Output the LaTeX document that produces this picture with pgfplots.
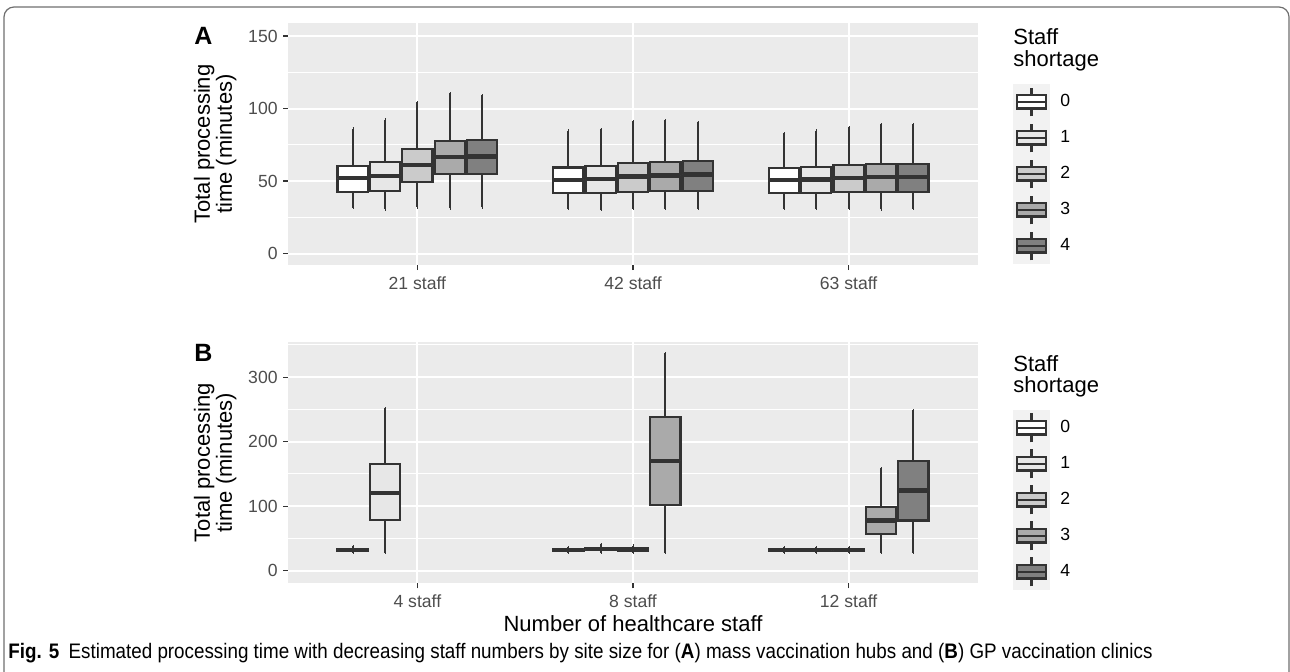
\documentclass[border=0pt]{standalone}
\usepackage{pgfplots}
\pgfplotsset{compat=1.18}
\usepgfplotslibrary{statistics}
\usepackage{fontspec}
\setmainfont{Liberation Sans}
\usepackage{graphicx}
\definecolor{bggrey}{HTML}{EBEBEB}
\definecolor{keybg}{HTML}{F2F2F2}
\definecolor{dk}{HTML}{333333}
\definecolor{tickgrey}{HTML}{4D4D4D}
\definecolor{framegrey}{HTML}{6E6E6E}
\definecolor{c0}{HTML}{FFFFFF}
\definecolor{c1}{HTML}{E7E7E7}
\definecolor{c2}{HTML}{CBCBCB}
\definecolor{c3}{HTML}{AAAAAA}
\definecolor{c4}{HTML}{808080}
% categories at x = 10, 20, 30; boxes offset by -3,-1.5,0,1.5,3
\newcommand{\bx}[7]{\addplot[forget plot, draw=dk, fill=#7, line width=1.1pt,
  boxplot/draw direction=y,
  boxplot prepared={draw position=#1, lower whisker=#2, lower quartile=#3,
  median=#4, upper quartile=#5, upper whisker=#6, box extend=1.4, whisker extend=0.01}]
  coordinates {};}
\newcommand{\legkey}[1]{%
  \fill[keybg] (0pt,-8.8pt) rectangle (17.6pt,8.8pt);
  \draw[dk, line width=1.1pt] (8.8pt,-7.2pt) -- (8.8pt,7.2pt);
  \draw[dk, line width=1.1pt, fill=#1] (1.5pt,-3.3pt) rectangle (16.1pt,3.3pt);
  \draw[dk, line width=1.2pt] (1.5pt,0pt) -- (16.1pt,0pt);}
\pgfplotsset{
  mystyle/.style={
    scale only axis, width=345pt,
    xmin=4, xmax=36, xtick={10,20,30},
    axis background/.style={fill=bggrey},
    axis line style={draw=none},
    grid=both,
    major grid style={white, line width=1pt},
    minor grid style={white, line width=0.5pt},
    tick align=outside, xtick pos=bottom, ytick pos=left,
    major tick length=2.5pt, minor tick length=0pt,
    tick style={dk, line width=0.6pt},
    tick label style={font=\fontsize{8.8}{10}\selectfont, text=tickgrey, inner sep=0pt},
    /pgf/number format/assume math mode=true,
    xticklabel style={yshift=-3pt},
    yticklabel style={xshift=-2.5pt},
    ylabel style={at={(axis description cs:-0.074,0.5)}, anchor=south, inner sep=0pt,
      align=center, font=\fontsize{11}{11}\selectfont},
    boxplot/every median/.style={line width=2.2pt},
    legend cell align=left,
    legend style={draw=none, fill=none, inner sep=0pt, row sep=0pt, column sep=5.5pt,
      nodes={inner sep=0pt}, font=\fontsize{8.8}{10}\selectfont, anchor=north west},
  }
}
\begin{document}
\begin{tikzpicture}
\useasboundingbox (0pt,0pt) rectangle (645pt,335.5pt);
\draw[framegrey, line width=0.6pt, rounded corners=5pt] (2pt,-1pt) -- (2pt,332pt) -- (644.5pt,332pt) -- (644.5pt,-1pt);
% Panel A
\begin{axis}[mystyle, at={(144pt,203pt)}, anchor=south west, height=121pt,
  ymin=-7.9, ymax=159, ytick={0,50,100,150}, minor ytick={25,75,125},
  xticklabels={21 staff,42 staff,63 staff},
  ylabel={Total processing\\time (minutes)},
  legend style={at={(axis description cs:1.0507,0.75)}}]
\addlegendimage{legend image code/.code={\legkey{c0}}}\addlegendentry{0}
\addlegendimage{legend image code/.code={\legkey{c1}}}\addlegendentry{1}
\addlegendimage{legend image code/.code={\legkey{c2}}}\addlegendentry{2}
\addlegendimage{legend image code/.code={\legkey{c3}}}\addlegendentry{3}
\addlegendimage{legend image code/.code={\legkey{c4}}}\addlegendentry{4}
% 21 staff
\bx{7.0}{31.4}{42.2}{51.9}{60.2}{86.2}{c0}
\bx{8.5}{30.4}{42.9}{53.5}{62.9}{92.4}{c1}
\bx{10.0}{31.8}{49.3}{60.9}{72.2}{104.2}{c2}
\bx{11.5}{31.1}{54.6}{66.4}{77.7}{110.4}{c3}
\bx{13.0}{31.8}{55.1}{66.8}{78.4}{109.3}{c4}
% 42 staff
\bx{17.0}{30.9}{41.7}{50.9}{59.3}{84.8}{c0}
\bx{18.5}{30.0}{41.7}{51.4}{60.2}{86.0}{c1}
\bx{20.0}{30.9}{42.6}{53.0}{62.5}{91.5}{c2}
\bx{21.5}{30.9}{43.3}{53.7}{63.4}{92.2}{c3}
\bx{23.0}{30.9}{43.3}{54.4}{64.1}{90.8}{c4}
% 63 staff
\bx{27.0}{30.9}{41.5}{50.7}{59.0}{83.0}{c0}
\bx{28.5}{30.9}{41.5}{51.2}{59.7}{84.8}{c1}
\bx{30.0}{30.9}{42.2}{52.1}{60.9}{87.1}{c2}
\bx{31.5}{30.4}{42.6}{52.6}{61.6}{89.4}{c3}
\bx{33.0}{30.9}{42.6}{52.6}{61.8}{89.0}{c4}
\end{axis}
% Panel B
\begin{axis}[mystyle, at={(144pt,43.85pt)}, anchor=south west, height=120.65pt,
  ymin=-19.5, ymax=354.5, ytick={0,100,200,300}, minor ytick={50,150,250,350},
  xticklabels={4 staff,8 staff,12 staff},
  ylabel={Total processing\\time (minutes)},
  legend style={at={(axis description cs:1.0507,0.7203)}}]
\addlegendimage{legend image code/.code={\legkey{c0}}}\addlegendentry{0}
\addlegendimage{legend image code/.code={\legkey{c1}}}\addlegendentry{1}
\addlegendimage{legend image code/.code={\legkey{c2}}}\addlegendentry{2}
\addlegendimage{legend image code/.code={\legkey{c3}}}\addlegendentry{3}
\addlegendimage{legend image code/.code={\legkey{c4}}}\addlegendentry{4}
% 4 staff
\bx{7.0}{27.0}{31.0}{32.5}{34.0}{38.0}{c0}
\bx{8.5}{27.9}{79.1}{120.9}{165.9}{252.8}{c1}
% 8 staff
\bx{17.0}{27.0}{31.0}{32.3}{34.0}{37.0}{c0}
\bx{18.5}{27.0}{32.0}{33.6}{35.5}{41.9}{c1}
\bx{20.0}{27.0}{31.5}{33.0}{35.0}{39.0}{c2}
\bx{21.5}{27.9}{101.3}{170.1}{238.3}{337.0}{c3}
% 12 staff
\bx{27.0}{27.0}{31.0}{32.0}{33.5}{37.2}{c0}
\bx{28.5}{27.0}{31.0}{32.0}{33.5}{37.2}{c1}
\bx{30.0}{27.0}{31.0}{32.0}{33.5}{37.2}{c2}
\bx{31.5}{27.9}{56.9}{78.0}{99.2}{159.7}{c3}
\bx{33.0}{27.9}{78.0}{124.5}{170.5}{248.6}{c4}
\end{axis}
% legend titles
\node[anchor=base west, inner sep=0pt, font=\fontsize{11}{11}\selectfont] at (506.5pt,313pt) {Staff};
\node[anchor=base west, inner sep=0pt, font=\fontsize{11}{11}\selectfont] at (506.5pt,302.15pt) {shortage};
\node[anchor=base west, inner sep=0pt, font=\fontsize{11}{11}\selectfont] at (506.5pt,150pt) {Staff};
\node[anchor=base west, inner sep=0pt, font=\fontsize{11}{11}\selectfont] at (506.5pt,139.15pt) {shortage};
% panel letters
\node[anchor=base west, inner sep=0pt, font=\fontsize{12.5}{13}\selectfont\bfseries] at (97pt,313.25pt) {A};
\node[anchor=base west, inner sep=0pt, font=\fontsize{12.5}{13}\selectfont\bfseries] at (97pt,154.6pt) {B};
% x axis title
\node[anchor=base, inner sep=0pt, font=\fontsize{11}{11}\selectfont] at (316.5pt,19.65pt) {Number of healthcare staff};
% caption
\node[anchor=base west, inner sep=0pt] at (4pt,6.5pt) {\resizebox{572pt}{\height}{\fontsize{10.5}{12}\selectfont\textbf{Fig. 5}\enspace Estimated processing time with decreasing staff numbers by site size for (\textbf{A}) mass vaccination hubs and (\textbf{B}) GP vaccination clinics}};
\end{tikzpicture}
\end{document}
